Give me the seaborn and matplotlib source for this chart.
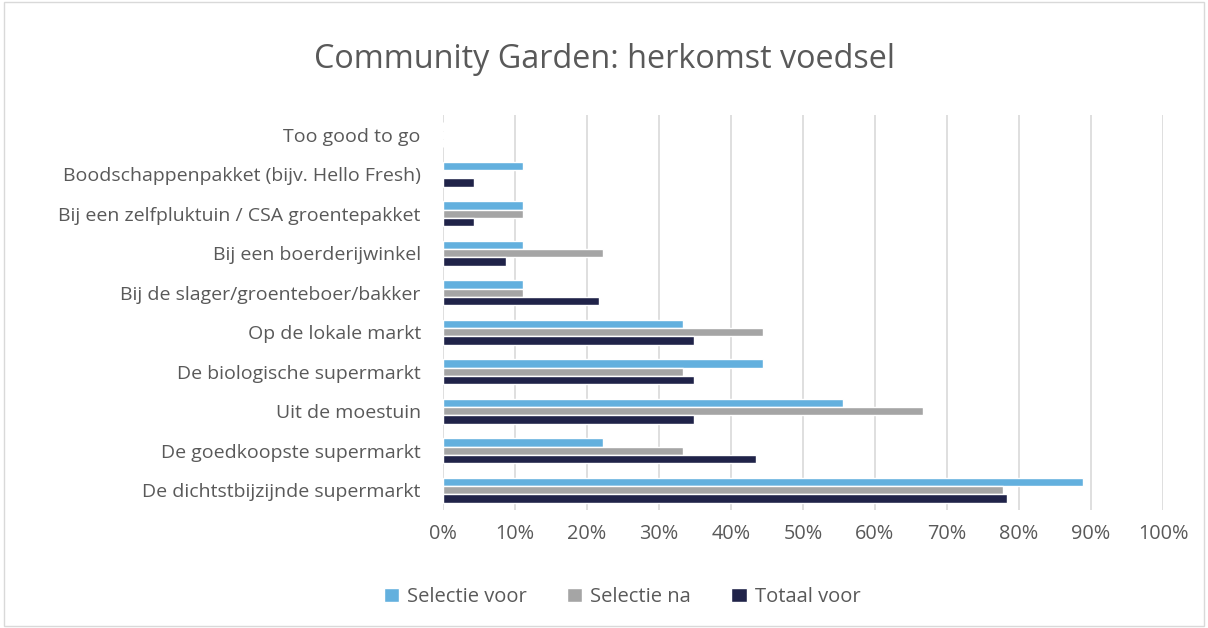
import seaborn as sns
import matplotlib.pyplot as plt
import pandas as pd
from matplotlib.patches import Rectangle

categories = ["Too good to go",
              "Boodschappenpakket (bijv. Hello Fresh)",
              "Bij een zelfpluktuin / CSA groentepakket",
              "Bij een boerderijwinkel",
              "Bij de slager/groenteboer/bakker",
              "Op de lokale markt",
              "De biologische supermarkt",
              "Uit de moestuin",
              "De goedkoopste supermarkt",
              "De dichtstbijzijnde supermarkt"]
selectie_voor = [0, 11.1, 11.1, 11.1, 11.1, 33.3, 44.4, 55.6, 22.2, 88.9]
selectie_na = [0, 0, 11.1, 22.2, 11.1, 44.4, 33.3, 66.7, 33.3, 77.8]
totaal_voor = [0, 4.3, 4.3, 8.7, 21.7, 34.8, 34.8, 34.8, 43.5, 78.3]
series = ["Selectie voor", "Selectie na", "Totaal voor"]
colors = ["#63B0DE", "#A5A5A5", "#202349"]

df = pd.DataFrame({"categorie": categories * 3,
                   "reeks": [s for s in series for _ in categories],
                   "waarde": selectie_voor + selectie_na + totaal_voor})

sns.set_theme(style="white")
plt.rcParams["font.family"] = ["Open Sans", "DejaVu Sans"]
text_col = "#595959"

fig = plt.figure(figsize=(12.08, 6.28), dpi=100)
ax = fig.add_axes([443 / 1208, 1 - 510 / 628, 720 / 1208, 395 / 628])
sns.barplot(data=df, y="categorie", x="waarde", hue="reeks", order=categories,
            hue_order=series, palette=colors, width=0.63, orient="h", ax=ax,
            saturation=1, legend=True)

ax.set_xlim(0, 100)
ax.set_xticks(range(0, 101, 10))
ax.set_xticklabels([f"{v}%" for v in range(0, 101, 10)], fontsize=14.3, color=text_col)
ax.tick_params(axis="y", labelsize=14, labelcolor=text_col, length=0, pad=16)
ax.tick_params(axis="x", length=0, pad=10)
ax.set_xlabel("")
ax.set_ylabel("")
ax.grid(axis="x", color="#D9D9D9", linewidth=1.2)
ax.set_axisbelow(True)
for s in ax.spines.values():
    s.set_visible(False)

fig.suptitle("Community Garden: herkomst voedsel", y=1 - 60 / 628, va="center",
             fontsize=23.3, color=text_col)

handles, labels = ax.get_legend_handles_labels()
ax.legend_.remove()
fig.legend(handles, labels, loc="center", bbox_to_anchor=(0.515, 1 - 597 / 628),
           ncol=3, frameon=False, fontsize=14.5, labelcolor=text_col,
           handlelength=0.75, handleheight=0.75, columnspacing=2.0, handletextpad=0.4)

fig.patches.append(Rectangle((0.003, 0.003), 0.994, 0.994, transform=fig.transFigure,
                             fill=False, edgecolor="#D9D9D9", linewidth=1))

fig.savefig("out.png", dpi=100)
